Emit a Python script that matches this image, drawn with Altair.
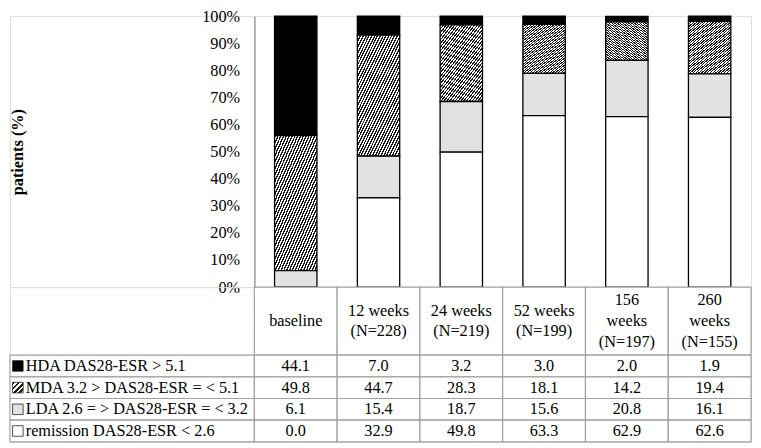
import altair as alt
import pandas as pd

# ---- data -------------------------------------------------------------
categories = ["baseline", "12 weeks (N=228)", "24 weeks (N=219)",
              "52 weeks (N=199)", "156 weeks (N=197)", "260 weeks (N=155)"]
header_labels = ["baseline", "12 weeks\n(N=228)", "24 weeks\n(N=219)",
                 "52 weeks\n(N=199)", "156\nweeks\n(N=197)", "260\nweeks\n(N=155)"]
header_lines = [1, 2, 2, 2, 3, 3]
series = ["HDA DAS28-ESR > 5.1", "MDA 3.2 > DAS28-ESR = < 5.1",
          "LDA 2.6 = > DAS28-ESR = < 3.2", "remission DAS28-ESR < 2.6"]
hda = [44.1, 7.0, 3.2, 3.0, 2.0, 1.9]
mda = [49.8, 44.7, 28.3, 18.1, 14.2, 19.4]
lda = [6.1, 15.4, 18.7, 15.6, 20.8, 16.1]
remission = [0.0, 32.9, 49.8, 63.3, 62.9, 62.6]
y_ticks = [0, 10, 20, 30, 40, 50, 60, 70, 80, 90, 100]

fills = ["#000000", "#777777", "#e2e2e2", "#ffffff"]
stack_rank = [3, 2, 1, 0]  # remission at the bottom, HDA on top

rows = []
for s, vals, rk in zip(series, [hda, mda, lda, remission], stack_rank):
    for c, v in zip(categories, vals):
        rows.append({"category": c, "series": s, "value": v, "rank": rk,
                     "label": f"{v:.1f}"})
df = pd.DataFrame(rows)
hdr_df = pd.DataFrame({"category": categories, "label": header_labels,
                       "lines": header_lines})
leg_df = pd.DataFrame({"series": series})

FONT = "Liberation Serif, Times New Roman, Tinos, DejaVu Serif, serif"
FS = 16.5
LH = 21
GRID = "#a0a0a0"
LEFT_W = 248
PLOT_W = 504
BAR_H = 275
HDR_H = 69
ROWS_H = 88


def stripes(n, r, frac=0.5, dark="#1a1a1a", light="#ffffff"):
    """diagonal hatch (///) built from a linear gradient with hard stops"""
    stops = []
    for k in range(n):
        a, b, c = k / n, (k + frac) / n, (k + 1) / n
        stops += [{"offset": a, "color": dark}, {"offset": b, "color": dark},
                  {"offset": b, "color": light}, {"offset": c, "color": light}]
    t = (1 + r) / (1 + r * r)
    return {"gradient": "linear", "x1": 0, "y1": 0, "x2": t, "y2": t * r,
            "stops": stops}


hatch_bar = stripes(36, 1.4)
hatch_key = stripes(4, 1.0)
is_mda = f"datum.series == '{series[1]}'"

x_bar = alt.X("category:N", sort=categories, axis=None,
              scale=alt.Scale(domain=categories, paddingInner=0.488, paddingOuter=0.244))
x_cell = alt.X("category:N", sort=categories, axis=None,
               scale=alt.Scale(domain=categories, paddingInner=0, paddingOuter=0))
y_row = alt.Y("series:N", sort=series, axis=None,
              scale=alt.Scale(domain=series, paddingInner=0, paddingOuter=0))
color = alt.Color("series:N", scale=alt.Scale(domain=series, range=fills), legend=None)


def blank(w, h):
    return alt.Chart(pd.DataFrame({"v": [0]})).mark_text(text="").encode(
        x=alt.value(0)).properties(width=w, height=h)


# ---- stacked bars -----------------------------------------------------
bars = alt.Chart(df).mark_bar(stroke="black", strokeWidth=1.3).encode(
    x=x_bar,
    y=alt.Y("value:Q", stack="zero",
            scale=alt.Scale(domain=[0, 100], nice=False),
            axis=alt.Axis(values=y_ticks, labelExpr="datum.value + '%'",
                          title="patients (%)", grid=False, ticks=False,
                          domainColor=GRID, domainWidth=1.5,
                          labelFont=FONT, labelFontSize=FS, labelColor="black",
                          labelPadding=15,
                          titleFont=FONT, titleFontSize=FS, titleFontWeight="bold",
                          titleColor="black", titleX=-240, titleBaseline="middle")),
    color=alt.condition(is_mda, alt.value(hatch_bar), color),
    order=alt.Order("rank:Q"),
).properties(width=PLOT_W, height=BAR_H)

# ---- table header -----------------------------------------------------
first_line_y = alt.Y("lines:Q", axis=None,
                     scale=alt.Scale(domain=[1, 3],
                                     range=[HDR_H / 2, HDR_H / 2 - LH]))
header = alt.layer(
    alt.Chart(hdr_df).mark_rect(fill="white", stroke=GRID, strokeWidth=1.2).encode(x=x_cell),
    alt.Chart(hdr_df).mark_text(font=FONT, fontSize=FS, color="black",
                                lineBreak="\n", lineHeight=LH,
                                baseline="middle").encode(
        x=x_cell, y=first_line_y, text="label:N"),
).resolve_scale(y="independent").properties(width=PLOT_W, height=HDR_H)

# ---- table values -----------------------------------------------------
table = alt.layer(
    alt.Chart(df).mark_rect(fill="white", stroke=GRID, strokeWidth=1.2).encode(x=x_cell, y=y_row),
    alt.Chart(df).mark_text(font=FONT, fontSize=FS, color="black",
                            baseline="middle").encode(x=x_cell, y=y_row, text="label:N"),
).properties(width=PLOT_W, height=ROWS_H)

# ---- legend column ----------------------------------------------------
legend = alt.layer(
    alt.Chart(leg_df).mark_rect(fill="white", stroke=GRID, strokeWidth=1.2).encode(y=y_row),
    alt.Chart(leg_df).mark_square(size=115, filled=True, stroke="#222222",
                                  strokeWidth=0.8, opacity=1).encode(
        x=alt.value(8), y=y_row,
        color=alt.condition(is_mda, alt.value(hatch_key), color)),
    alt.Chart(leg_df).mark_text(font=FONT, fontSize=FS, color="black", align="left",
                                baseline="middle").encode(
        x=alt.value(16), y=y_row, text="series:N"),
).properties(width=LEFT_W, height=ROWS_H)

chart = alt.concat(
    blank(LEFT_W, BAR_H), bars,
    blank(LEFT_W, HDR_H), header,
    legend, table,
    columns=2,
).properties(
    spacing=0, align="each", bounds="flush",
    padding={"top": -4, "left": 0, "right": 0, "bottom": 0}
).configure_view(stroke=None).configure(font=FONT)

chart.save("out.html", embed_options={"renderer": "svg", "actions": False})
